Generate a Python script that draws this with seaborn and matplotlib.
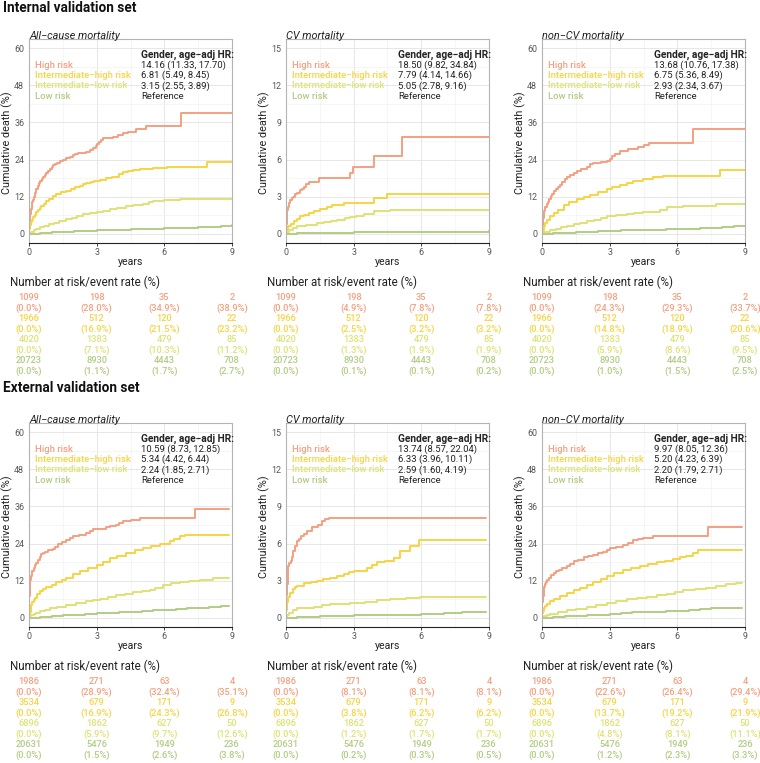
import pandas as pd
import matplotlib
matplotlib.use("Agg")
import matplotlib.pyplot as plt
import seaborn as sns
from matplotlib.ticker import MultipleLocator

# gruppi di rischio e colori
groups = ["High risk", "Intermediate\u2212high risk", "Intermediate\u2212low risk", "Low risk"]
colors = ["#F4A080", "#F7D443", "#DFE275", "#B2CC84"]
years = [0, 3, 6, 9]

# curve di incidenza cumulativa (anni, %) - set interno
int_all_high = [(0, 0), (0.01, 2), (0.02, 3.5), (0.04, 5), (0.06, 6.5), (0.09, 8), (0.12, 9.3), (0.15, 10.2),
                (0.18, 11), (0.22, 12), (0.27, 13.3), (0.32, 14.4), (0.38, 15.4), (0.44, 16.3), (0.5, 17),
                (0.56, 17.6), (0.62, 18.3), (0.7, 19), (0.77, 19.5), (0.85, 20.2), (0.93, 20.8), (1.0, 21.6),
                (1.07, 22.3), (1.14, 22.7), (1.25, 23), (1.36, 23.4), (1.5, 23.9), (1.65, 24.4), (1.8, 24.9),
                (1.95, 25.5), (2.05, 25.9), (2.17, 26.2), (2.54, 26.5), (2.7, 27), (2.84, 27.6), (2.95, 28.3),
                (3.03, 29), (3.1, 29.8), (3.2, 30.4), (3.28, 30.9), (3.72, 31.4), (3.95, 31.9), (4.17, 32.5),
                (4.39, 33.0), (4.75, 33.8), (5.2, 34.9), (6.75, 38.9), (9, 38.9)]
int_all_ih = [(0, 0), (0.02, 1.5), (0.05, 2.8), (0.08, 3.8), (0.12, 4.6), (0.17, 5.3), (0.25, 6.2), (0.33, 7),
              (0.4, 7.7), (0.47, 8.4), (0.55, 9), (0.65, 9.7), (0.77, 10.5), (0.9, 11.3), (1.06, 12.1),
              (1.2, 12.7), (1.43, 13.4), (1.65, 13.9), (1.88, 14.4), (2.05, 15), (2.25, 15.5), (2.4, 16),
              (2.54, 16.5), (2.75, 16.8), (2.9, 17.0), (3.15, 17.3), (3.43, 17.9), (3.7, 18.4), (4.0, 19.3),
              (4.17, 20.0), (4.4, 20.3), (4.6, 20.6), (4.9, 21.1), (5.5, 21.4), (6.1, 21.6), (7.9, 23.3), (9, 23.3)]
int_all_il = [(0, 0), (0.1, 0.6), (0.2, 1.1), (0.3, 1.5), (0.47, 2.1), (0.65, 2.6), (0.9, 3.1), (1.1, 3.5),
              (1.35, 4.0), (1.65, 4.7), (1.9, 5.2), (2.15, 5.8), (2.4, 6.3), (2.7, 6.8), (3.0, 7.1), (3.3, 7.5),
              (3.57, 7.9), (3.9, 8.3), (4.3, 9.0), (4.6, 9.3), (5.05, 9.7), (5.3, 10.2), (5.5, 10.7), (6.0, 10.9),
              (6.7, 11.2), (9, 11.2)]
int_all_low = [(0, 0), (0.5, 0.2), (1, 0.4), (1.5, 0.6), (2, 0.75), (2.5, 0.9), (3, 1.1), (3.5, 1.2), (4, 1.3),
               (4.5, 1.4), (5, 1.5), (5.5, 1.6), (6, 1.7), (6.5, 1.8), (7, 1.9), (7.5, 2.1), (8, 2.3), (8.5, 2.6),
               (9, 2.7)]

int_cv_high = [(0, 0), (0.01, 0.8), (0.03, 1.4), (0.05, 1.9), (0.08, 2.2), (0.12, 2.5), (0.18, 2.7), (0.25, 2.9),
               (0.33, 3.0), (0.42, 3.2), (0.5, 3.3), (0.6, 3.5), (0.7, 3.6), (0.8, 3.8), (0.9, 4.0), (1.0, 4.2),
               (1.45, 4.5), (2.85, 4.9), (2.95, 5.4), (3.9, 6.3), (5.15, 7.85), (9, 7.85)]
int_cv_ih = [(0, 0), (0.03, 0.4), (0.07, 0.6), (0.2, 0.8), (0.34, 1.0), (0.5, 1.2), (0.64, 1.4), (0.8, 1.55),
             (1.0, 1.7), (1.25, 1.85), (1.52, 2.0), (1.8, 2.15), (2.04, 2.3), (2.55, 2.45), (3.0, 2.5),
             (3.9, 2.85), (4.47, 3.25), (9, 3.25)]
int_cv_il = [(0, 0), (0.05, 0.15), (0.12, 0.3), (0.3, 0.5), (0.49, 0.6), (0.9, 0.7), (1.37, 0.85), (1.7, 0.95),
             (2.0, 1.05), (2.26, 1.15), (2.6, 1.25), (2.85, 1.35), (3.1, 1.45), (3.44, 1.6), (3.9, 1.8),
             (4.6, 1.9), (9, 1.9)]
int_cv_low = [(0, 0), (0.5, 0.03), (1.5, 0.07), (3, 0.1), (4.5, 0.11), (6, 0.12), (7.5, 0.17), (9, 0.2)]

int_ncv_high = [(0, 0), (0.01, 2), (0.03, 3.8), (0.05, 5), (0.07, 6), (0.1, 7.3), (0.15, 8.6), (0.2, 9.6),
                (0.25, 10.4), (0.3, 11.1), (0.38, 12.2), (0.45, 13), (0.52, 13.7), (0.6, 14.4), (0.7, 15.1),
                (0.81, 15.8), (0.9, 16.6), (1.0, 17.6), (1.1, 18.5), (1.25, 19.1), (1.4, 19.7), (1.55, 20.2),
                (1.75, 20.8), (1.99, 21.7), (2.15, 22.4), (2.28, 23), (2.6, 23.2), (2.87, 23.5), (3.0, 24.3),
                (3.1, 25), (3.25, 25.8), (3.46, 26.9), (3.8, 27.3), (4.27, 28.2), (4.5, 28.6), (4.75, 29.3),
                (6.7, 33.8), (9, 33.8)]
int_ncv_ih = [(0, 0), (0.03, 1.3), (0.07, 2.4), (0.12, 3.4), (0.22, 4.5), (0.35, 5.6), (0.52, 6.6), (0.7, 7.7),
              (0.96, 9.2), (1.2, 10.2), (1.55, 11.3), (1.85, 12), (2.14, 12.6), (2.5, 13.6), (2.87, 14.6),
              (3.1, 15.2), (3.46, 15.8), (3.75, 16.3), (4.05, 17.0), (4.49, 17.6), (4.9, 18.2), (5.38, 18.8),
              (7.88, 20.7), (9, 20.7)]
int_ncv_il = [(0, 0), (0.1, 0.4), (0.2, 0.7), (0.37, 1.1), (0.6, 1.6), (0.85, 2.1), (1.1, 2.5), (1.4, 3.0),
              (1.7, 3.5), (1.99, 4.0), (2.3, 4.6), (2.6, 5.2), (2.87, 5.6), (3.3, 6.0), (3.76, 6.4), (4.1, 6.8),
              (4.49, 7.1), (5.23, 7.6), (5.52, 8.5), (6.26, 9.0), (7.73, 9.5), (9, 9.5)]
int_ncv_low = [(0, 0), (0.5, 0.15), (1, 0.35), (1.5, 0.5), (2, 0.7), (2.5, 0.85), (3, 1.0), (3.5, 1.1), (4, 1.15),
               (4.5, 1.2), (5, 1.3), (5.5, 1.4), (6, 1.5), (6.5, 1.6), (7, 1.75), (7.5, 1.9), (8, 2.1), (8.5, 2.4),
               (9, 2.5)]

# set esterno
ext_all_high = [(0, 0), (0.01, 4), (0.02, 7), (0.04, 10), (0.06, 12.2), (0.09, 13.5), (0.12, 14.5), (0.15, 15.2),
                (0.2, 16), (0.26, 17), (0.32, 17.8), (0.4, 18.8), (0.48, 19.8), (0.55, 20.6), (0.62, 21.1),
                (0.69, 21.4), (0.85, 21.8), (1.06, 22.3), (1.15, 23), (1.28, 23.8), (1.45, 24.5), (1.65, 25.3),
                (1.8, 25.9), (1.95, 26.4), (2.2, 26.9), (2.54, 27.5), (2.7, 28.1), (2.84, 28.6), (3.1, 28.8),
                (3.43, 29.2), (3.6, 29.6), (3.87, 29.9), (4.0, 30.5), (4.17, 31.4), (4.5, 31.7), (4.9, 32.4),
                (7.34, 35.2), (8.87, 35.2)]
ext_all_ih = [(0, 0), (0.02, 1.2), (0.04, 2), (0.07, 3.1), (0.1, 4), (0.15, 5), (0.2, 5.8), (0.25, 6.5),
              (0.35, 7.6), (0.47, 8.6), (0.6, 9.3), (0.77, 10), (1.0, 10.7), (1.21, 11.4), (1.45, 12.2),
              (1.65, 13), (1.95, 14), (2.25, 15.1), (2.6, 16), (3.0, 17.1), (3.3, 18.1), (3.57, 19.3), (3.9, 20),
              (4.31, 21.1), (4.7, 22), (5.05, 22.7), (5.4, 23.3), (5.8, 24.0), (6.23, 24.9), (6.45, 25.5),
              (6.68, 26.4), (6.9, 26.8), (8.87, 26.8)]
ext_all_il = [(0, 0), (0.05, 0.5), (0.1, 0.8), (0.2, 1.2), (0.32, 1.6), (0.5, 2.2), (0.7, 2.6), (0.92, 3.0),
              (1.25, 3.6), (1.65, 4.1), (2.1, 4.7), (2.54, 5.4), (2.85, 5.8), (3.13, 6.2), (3.5, 6.7), (3.87, 7.2),
              (4.25, 7.8), (4.61, 8.3), (5.0, 8.6), (5.35, 9.0), (5.6, 9.5), (5.94, 10.6), (6.3, 11.2),
              (6.68, 11.7), (7.1, 12), (7.57, 12.2), (8.16, 12.8), (8.87, 12.8)]
ext_all_low = [(0, 0), (0.5, 0.3), (1, 0.55), (1.5, 0.8), (2, 1.0), (2.5, 1.2), (3, 1.4), (3.5, 1.6), (4, 1.8),
               (4.5, 2.0), (5, 2.2), (5.5, 2.35), (6, 2.5), (6.5, 2.8), (7, 3.0), (7.5, 3.3), (8, 3.6),
               (8.5, 3.75), (8.87, 3.8)]

ext_cv_high = [(0, 0), (0.01, 1), (0.02, 1.8), (0.04, 2.7), (0.07, 3.6), (0.1, 4.2), (0.14, 4.4), (0.2, 4.6),
               (0.27, 4.9), (0.33, 5.4), (0.41, 5.8), (0.48, 6.2), (0.56, 6.4), (0.65, 6.6), (0.78, 6.8),
               (0.95, 7.0), (1.15, 7.3), (1.4, 7.5), (1.6, 7.8), (1.75, 7.95), (1.89, 8.1), (8.87, 8.1)]
ext_cv_ih = [(0, 0), (0.01, 0.6), (0.04, 1.3), (0.1, 1.7), (0.19, 2.0), (0.3, 2.3), (0.4, 2.5), (0.49, 2.6),
             (0.78, 2.8), (1.1, 2.9), (1.37, 3.0), (1.65, 3.1), (1.96, 3.2), (2.25, 3.35), (2.55, 3.5), (2.8, 3.7),
             (3.0, 3.8), (3.59, 4.0), (3.8, 4.3), (4.03, 4.5), (4.4, 4.6), (4.77, 4.8), (5.07, 5.4), (5.5, 5.8),
             (5.88, 6.25), (8.87, 6.25)]
ext_cv_il = [(0, 0), (0.05, 0.2), (0.12, 0.4), (0.3, 0.6), (0.49, 0.75), (0.85, 0.82), (1.23, 0.9), (1.6, 1.0),
             (1.96, 1.1), (2.4, 1.15), (2.85, 1.2), (3.5, 1.3), (4.03, 1.4), (4.62, 1.55), (5.3, 1.6), (5.95, 1.7),
             (8.87, 1.7)]
ext_cv_low = [(0, 0), (0.5, 0.05), (1, 0.08), (1.5, 0.1), (2, 0.13), (2.5, 0.17), (3, 0.2), (4, 0.23), (5, 0.26),
              (6, 0.3), (7, 0.35), (7.8, 0.5), (8.87, 0.5)]

ext_ncv_high = [(0, 0), (0.01, 3), (0.02, 5), (0.04, 7), (0.07, 8.8), (0.1, 9.8), (0.14, 10.8), (0.18, 11.6),
                (0.22, 12.1), (0.3, 12.9), (0.4, 13.8), (0.52, 14.6), (0.63, 15.1), (0.74, 15.5), (0.9, 16.1),
                (1.1, 16.8), (1.25, 17.5), (1.4, 18.2), (1.6, 18.8), (1.84, 19.5), (2.05, 19.9), (2.28, 20.4),
                (2.5, 20.8), (2.72, 21.3), (2.9, 22), (3.02, 22.6), (3.3, 23), (3.6, 23.5), (3.8, 24.2), (4.05, 25),
                (4.25, 25.4), (4.49, 25.8), (4.93, 26.4), (7.36, 29.5), (8.87, 29.5)]
ext_ncv_ih = [(0, 0), (0.02, 1.5), (0.04, 2.2), (0.07, 3.0), (0.14, 3.8), (0.22, 4.5), (0.35, 5.3), (0.52, 6.0),
              (0.8, 7.0), (1.1, 8.0), (1.4, 8.9), (1.69, 9.7), (2.0, 10.6), (2.28, 11.5), (2.6, 12.5), (2.87, 13.5),
              (3.2, 14.4), (3.6, 15.3), (3.95, 16), (4.34, 16.7), (4.7, 17.3), (5.08, 17.9), (5.45, 18.4),
              (5.82, 19.0), (6.1, 19.5), (6.4, 20.0), (6.7, 21.0), (6.92, 21.9), (8.87, 21.9)]
ext_ncv_il = [(0, 0), (0.1, 0.5), (0.2, 0.8), (0.37, 1.2), (0.7, 1.8), (1.1, 2.4), (1.5, 2.9), (1.99, 3.5),
              (2.4, 4.1), (2.87, 4.8), (3.3, 5.3), (3.76, 5.9), (4.2, 6.4), (4.64, 6.8), (5.1, 7.2), (5.52, 7.6),
              (5.9, 8.3), (6.26, 9.0), (6.8, 9.4), (7.29, 9.7), (7.7, 10.2), (8.17, 10.8), (8.6, 11.1), (8.87, 11.1)]
ext_ncv_low = [(0, 0), (0.5, 0.2), (1, 0.4), (1.5, 0.6), (2, 0.8), (2.5, 1.0), (3, 1.2), (3.5, 1.5), (4, 1.8),
               (4.5, 1.9), (5, 2.0), (5.5, 2.15), (6, 2.3), (6.5, 2.55), (7, 2.8), (7.5, 3.05), (8, 3.3),
               (8.87, 3.3)]

# numero a rischio
int_n = [[1099, 198, 35, 2], [1966, 512, 120, 22], [4020, 1383, 479, 85], [20723, 8930, 4443, 708]]
ext_n = [[1986, 271, 63, 4], [3534, 679, 171, 9], [6896, 1862, 627, 50], [20631, 5476, 1949, 236]]

# tassi di evento (%)
int_all_rate = [[0.0, 28.0, 34.9, 38.9], [0.0, 16.9, 21.5, 23.2], [0.0, 7.1, 10.3, 11.2], [0.0, 1.1, 1.7, 2.7]]
int_cv_rate = [[0.0, 4.9, 7.8, 7.8], [0.0, 2.5, 3.2, 3.2], [0.0, 1.3, 1.9, 1.9], [0.0, 0.1, 0.1, 0.2]]
int_ncv_rate = [[0.0, 24.3, 29.3, 33.7], [0.0, 14.8, 18.9, 20.6], [0.0, 5.9, 8.6, 9.5], [0.0, 1.0, 1.5, 2.5]]
ext_all_rate = [[0.0, 28.9, 32.4, 35.1], [0.0, 16.9, 24.3, 26.8], [0.0, 5.9, 9.7, 12.6], [0.0, 1.5, 2.6, 3.8]]
ext_cv_rate = [[0.0, 8.1, 8.1, 8.1], [0.0, 3.8, 6.2, 6.2], [0.0, 1.2, 1.7, 1.7], [0.0, 0.2, 0.3, 0.5]]
ext_ncv_rate = [[0.0, 22.6, 26.4, 29.4], [0.0, 13.7, 19.2, 21.9], [0.0, 4.8, 8.1, 11.1], [0.0, 1.2, 2.3, 3.3]]

# hazard ratio
int_all_hr = ["14.16 (11.33, 17.70)", "6.81 (5.49, 8.45)", "3.15 (2.55, 3.89)", "Reference"]
int_cv_hr = ["18.50 (9.82, 34.84)", "7.79 (4.14, 14.66)", "5.05 (2.78, 9.16)", "Reference"]
int_ncv_hr = ["13.68 (10.76, 17.38)", "6.75 (5.36, 8.49)", "2.93 (2.34, 3.67)", "Reference"]
ext_all_hr = ["10.59 (8.73, 12.85)", "5.34 (4.42, 6.44)", "2.24 (1.85, 2.71)", "Reference"]
ext_cv_hr = ["13.74 (8.57, 22.04)", "6.33 (3.96, 10.11)", "2.59 (1.60, 4.19)", "Reference"]
ext_ncv_hr = ["9.97 (8.05, 12.36)", "5.20 (4.23, 6.39)", "2.20 (1.79, 2.71)", "Reference"]

titles = ["All\u2212cause mortality", "CV mortality", "non\u2212CV mortality"]
ymax = [60, 15, 60]

sns.set_style("white")
plt.rcParams['font.family'] = ['Roboto', 'DejaVu Sans']

W, H = 760, 763
fig = plt.figure(figsize=(W / 100, H / 100), dpi=100)


def rect(l, t, w, h):
    return [l / W, 1 - (t + h) / H, w / W, h / H]


def ftext(x, y, s, **kw):
    fig.text(x / W, 1 - y / H, s, **kw)


lefts = [29, 286, 542]
tops = [39, 423]
pw, ph = 203, 204

sets = [
    ("Internal validation set", int_n,
     [[int_all_high, int_all_ih, int_all_il, int_all_low],
      [int_cv_high, int_cv_ih, int_cv_il, int_cv_low],
      [int_ncv_high, int_ncv_ih, int_ncv_il, int_ncv_low]],
     [int_all_rate, int_cv_rate, int_ncv_rate],
     [int_all_hr, int_cv_hr, int_ncv_hr]),
    ("External validation set", ext_n,
     [[ext_all_high, ext_all_ih, ext_all_il, ext_all_low],
      [ext_cv_high, ext_cv_ih, ext_cv_il, ext_cv_low],
      [ext_ncv_high, ext_ncv_ih, ext_ncv_il, ext_ncv_low]],
     [ext_all_rate, ext_cv_rate, ext_ncv_rate],
     [ext_all_hr, ext_cv_hr, ext_ncv_hr]),
]

set_title_y = [8, 388]

for r, (set_name, nrisk, curves, rates, hrs) in enumerate(sets):
    top = tops[r]
    ftext(3, set_title_y[r], set_name, fontsize=9.8, fontweight='bold', ha='left', va='center', color='#111111')
    for c in range(3):
        left = lefts[c]
        ax = fig.add_axes(rect(left, top, pw, ph))
        rows = []
        for g, pts in zip(groups, curves[c]):
            for t, v in pts:
                rows.append({"time": t, "value": v, "group": g})
        df = pd.DataFrame(rows)
        sns.lineplot(data=df, x="time", y="value", hue="group", palette=colors, hue_order=groups,
                     estimator=None, sort=False, drawstyle='steps-post', linewidth=1.4, legend=False, ax=ax)
        m = ymax[c]
        ax.set_xlim(0, 9)
        ax.set_ylim(-0.05 * m, 1.05 * m)
        ax.xaxis.set_major_locator(MultipleLocator(3))
        ax.xaxis.set_minor_locator(MultipleLocator(1.5))
        ax.yaxis.set_major_locator(MultipleLocator(m / 5))
        ax.yaxis.set_minor_locator(MultipleLocator(m / 10))
        ax.grid(which='major', color='#E3E3E3', linewidth=0.6)
        ax.grid(which='minor', color='#F0F0F0', linewidth=0.4)
        ax.set_axisbelow(True)
        for s in ['top', 'right', 'left']:
            ax.spines[s].set_color('#B3B3B3')
            ax.spines[s].set_linewidth(0.8)
        ax.spines['bottom'].set_color('#222222')
        ax.spines['bottom'].set_linewidth(0.8)
        ax.tick_params(axis='y', which='major', length=2.5, width=0.6, color='#B3B3B3', pad=1,
                       labelsize=6.4, labelcolor='#555555')
        ax.tick_params(axis='x', which='major', length=2.5, width=0.6, color='#222222', pad=1,
                       labelsize=6.4, labelcolor='#555555', bottom=True)
        ax.tick_params(which='minor', length=0)
        ax.set_xlabel("years", fontsize=7.6, color='#222222')
        ax.xaxis.set_label_coords(0.5, -19 / ph)
        ax.xaxis.label.set_va('center')
        ax.set_ylabel("Cumulative death (%)", fontsize=7.8, color='#222222')
        ax.yaxis.set_label_coords(-22 / pw, 0.49)
        ax.yaxis.label.set_va('center')
        ax.set_title(titles[c], fontsize=7.8, style='italic', loc='left', pad=0, color='#222222')
        ax.title.set_position((1 / pw, 1 + 10 / ph))
        ax.title.set_va('center')

        # legenda interna con HR
        ax.text(0.553, 0.921, "Gender, age\u2212adj HR:", transform=ax.transAxes, fontsize=7.3,
                fontweight='bold', color='#222222', va='center', ha='left')
        for k in range(4):
            yy = 0.871 - k * 0.0505
            ax.text(0.03, yy, groups[k], transform=ax.transAxes, fontsize=6.8, color=colors[k],
                    fontweight='medium', va='center', ha='left')
            ax.text(0.553, yy, hrs[c][k], transform=ax.transAxes, fontsize=6.8, color='#222222',
                    va='center', ha='left')

        # tabella numero a rischio
        ftext(left - 19, top + ph + 39.5, "Number at risk/event rate (%)", fontsize=8.3, ha='left',
              va='center', color='#222222')
        tab = fig.add_axes(rect(left, top + ph + 49.5, pw, 84))
        tab.set_xlim(0, 9)
        tab.set_ylim(8, 0)
        tab.axis('off')
        for k in range(4):
            for j, t in enumerate(years):
                tab.text(t, 2 * k + 0.5, str(nrisk[k][j]), fontsize=6.7, color=colors[k], fontweight='medium',
                         ha='center', va='center', clip_on=False)
                tab.text(t, 2 * k + 1.5, "(%.1f%%)" % rates[c][k][j], fontsize=6.7, color=colors[k],
                         fontweight='medium', ha='center', va='center', clip_on=False)

fig.savefig("out.png", dpi=100)
